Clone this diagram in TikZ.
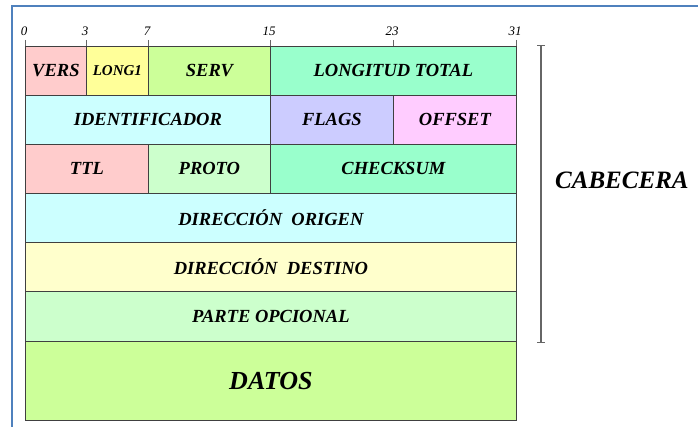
\documentclass[tikz,border=0pt]{standalone}
\usepackage{fontspec}
\setmainfont{Liberation Serif}
\definecolor{cpink}{HTML}{FFCCCC}
\definecolor{cyel}{HTML}{FFFF99}
\definecolor{clime}{HTML}{CCFF99}
\definecolor{cmint}{HTML}{99FFCC}
\definecolor{ccyan}{HTML}{CCFFFF}
\definecolor{clav}{HTML}{CCCCFF}
\definecolor{cmag}{HTML}{FFCCFF}
\definecolor{cpale}{HTML}{CCFFCC}
\definecolor{ccream}{HTML}{FFFFCC}
\definecolor{cframe}{HTML}{4F81BD}
\begin{document}
\begin{tikzpicture}[x=1pt,y=-1pt,
  cell/.style={draw=black!75,line width=0.8pt,inner sep=0pt,anchor=north west,
    font=\bfseries\itshape\fontsize{18.5}{21}\selectfont},
  ticklbl/.style={font=\itshape\fontsize{13}{15}\selectfont,inner sep=0pt},
  tickline/.style={draw=black!60,line width=0.6pt}]
\useasboundingbox (0,0) rectangle (698,427);
% outer frame
\draw[cframe,line width=2pt] (12,427) -- (12,6) -- (698,6);
% row 1
\node[cell,fill=cpink,minimum width=61pt,minimum height=49pt] (vers) at (25,46) {VERS};
\node[cell,fill=cyel,minimum width=62pt,minimum height=49pt,font=\bfseries\itshape\fontsize{15}{18}\selectfont] (long1) at (86,46) {LONG1};
\node[cell,fill=clime,minimum width=122pt,minimum height=49pt] (serv) at (148,46) {SERV};
\node[cell,fill=cmint,minimum width=246pt,minimum height=49pt] (lt) at (270,46) {LONGITUD TOTAL};
% row 2
\node[cell,fill=ccyan,minimum width=245pt,minimum height=49pt] (ident) at (25,95) {IDENTIFICADOR};
\node[cell,fill=clav,minimum width=123pt,minimum height=49pt] (flags) at (270,95) {FLAGS};
\node[cell,fill=cmag,minimum width=123pt,minimum height=49pt] (offset) at (393,95) {OFFSET};
% row 3
\node[cell,fill=cpink,minimum width=123pt,minimum height=49pt] (ttl) at (25,144) {TTL};
\node[cell,fill=cpale,minimum width=122pt,minimum height=49pt] (proto) at (148,144) {PROTO};
\node[cell,fill=cmint,minimum width=246pt,minimum height=49pt] (chk) at (270,144) {CHECKSUM};
% full rows
\node[cell,fill=ccyan,minimum width=491pt,minimum height=49pt] (orig) at (25,193) {DIRECCIÓN\ \ ORIGEN};
\node[cell,fill=ccream,minimum width=491pt,minimum height=49pt] (dest) at (25,242) {DIRECCIÓN\ \ DESTINO};
\node[cell,fill=cpale,minimum width=491pt,minimum height=50pt] (opc) at (25,291) {PARTE OPCIONAL};
\node[cell,fill=clime,minimum width=491pt,minimum height=79pt,font=\bfseries\itshape\fontsize{26}{29}\selectfont] (datos) at (25,341) {DATOS};
% ticks and bit labels
\foreach \xx/\lab in {25/0,86/3,148/7,270/15,393/23,516/31}{
  \draw[tickline] (\xx,40) -- (\xx,46);
  \node[ticklbl] (t\lab) at (\xx-1,31) {\lab};
}
% header bracket
\coordinate (btop) at (541,46);
\coordinate (bbot) at (541,342);
\draw[draw=black!60,line width=1.2pt] (btop) -- (bbot);
\draw[draw=black!60,line width=1pt] ([xshift=-4pt]btop) -- ([xshift=4pt]btop);
\draw[draw=black!60,line width=1pt] ([xshift=-4pt]bbot) -- ([xshift=4pt]bbot);
\node[font=\bfseries\itshape\fontsize{25}{28}\selectfont,inner sep=0pt,anchor=west] (cab) at (555,180) {CABECERA};
\end{tikzpicture}
\end{document}
